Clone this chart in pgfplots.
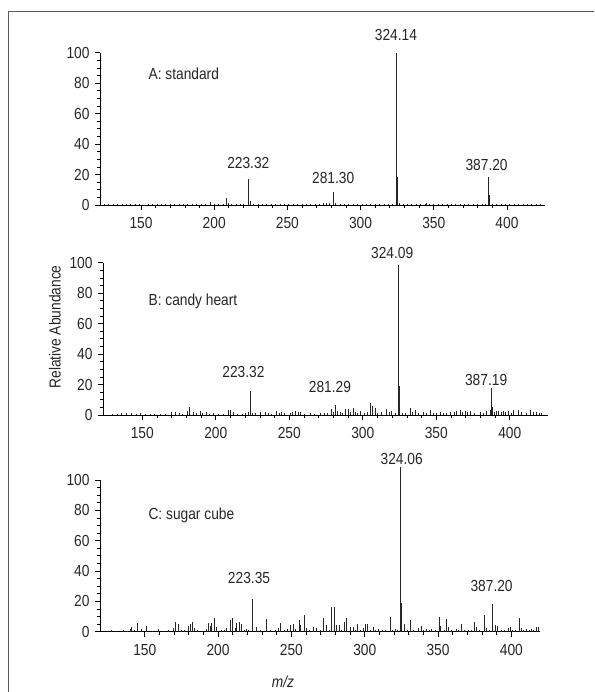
\documentclass[border=0pt]{standalone}
\usepackage{fontspec}
\setmainfont{Liberation Sans}[FakeStretch=0.86]
\usepackage{pgfplots}
\pgfplotsset{compat=1.18}

\tikzset{lab/.style={font=\fontsize{16}{19}\selectfont, text=black!85}}
\pgfplotsset{
  spec/.style={
    scale only axis,
    anchor=origin,
    axis lines=left,
    axis line style={-, black, line width=0.8pt},
    clip=false,
    ymin=0, ymax=100,
    ytick={0,20,...,100},
    minor y tick num=3,
    xtick={150,200,...,400},
    minor x tick num=4,
    tick align=outside,
    major tick length=5pt,
    minor tick length=3.5pt,
    tick style={black, line width=0.7pt},
    ticklabel style={font=\fontsize{16}{19}\selectfont, text=black!85},
    /pgf/number format/assume math mode=true,
    xticklabel style={yshift=-4pt},
    yticklabel style={xshift=-2pt},
  },
  peak/.style={ycomb, black!85, line width=0.8pt, mark=none},
}

\begin{document}
\begin{tikzpicture}[x=1pt, y=1pt]
\useasboundingbox (0pt,0pt) rectangle (594pt,692pt);
\draw[black!65, line width=1.3pt] (8.3pt,0pt) -- (8.3pt,680.3pt) -- (594pt,680.3pt);

% A: standard
\begin{axis}[spec, at={(100pt,487pt)}, width=445pt, height=152.3pt, xmin=122, xmax=426]
\addplot[peak] table {
125 0.5
128 0.4
131 0.6
134 0.5
137 0.4
140 0.7
143 0.5
146 0.4
149 0.6
152 0.3
155 0.5
158 0.4
161 0.6
164 0.4
167 0.5
170 0.7
173 0.6
176 0.8
179 0.5
182 0.6
185 0.7
188 0.6
191 0.8
194 0.5
197.6 1.8
200 0.6
203 0.5
206 0.7
208.6 4.4
209.7 1.2
212 0.5
215 0.6
218 0.7
220 0.6
223.32 17
225 2.5
227 0.6
230 0.5
233 0.7
236 0.6
239 0.8
242 0.6
245 0.9
248 0.6
251 0.7
254 0.5
257 0.8
260 0.6
263 0.7
266 0.6
269 0.8
272 0.7
274.5 1.0
276.8 1.2
279 1.5
281.3 8.3
283 1.2
286 0.7
289 0.6
292 0.5
295 0.7
298 0.6
301 0.5
304 0.6
307 0.7
310 0.5
313 0.6
316 0.5
319 0.6
322 0.7
324.14 100
325.1 18.6
326.4 1.5
329 0.6
332 0.5
335 0.6
338 0.5
341 0.7
344 0.9
345.1 1.2
347 0.8
350 0.9
353 0.8
356 0.9
359 0.8
362 0.7
365 0.6
368 0.7
371 0.6
374 0.5
377 0.6
380 0.7
383 0.6
385 0.8
387.2 18.5
388.3 6.5
390 0.8
393 0.7
396 0.6
399 0.7
402 0.5
405 0.6
408 0.5
411 0.4
414 0.5
417 0.4
420 0.5
423 0.4
};
\node[lab, anchor=west] at (axis cs:152.8,86) {A: standard};
\node[lab] at (axis cs:324.14,111.6) {324.14};
\node[lab] at (axis cs:223.32,27.4) {223.32};
\node[lab] at (axis cs:281.3,17.5) {281.30};
\node[lab] at (axis cs:386.1,26.3) {387.20};
\end{axis}

% B: candy heart
\begin{axis}[spec, at={(103pt,277pt)}, width=445pt, height=152.3pt, xmin=123.3, xmax=426]
\addplot[peak] table {
130 0.5
133 0.6
136 1.5
139.4 1.5
142.8 1.5
146 0.8
148.5 1.5
152 0.6
155.3 0.8
158 0.5
162.1 0.8
166 0.6
170 2.2
172.3 2.2
175 1.0
177 0.8
180.7 2.5
182 5.5
184.7 2.2
187 1.5
189.3 2.8
191 1.2
193.8 2.2
196 0.8
198.3 1.5
202 0.6
205 0.8
208.5 3.3
210.2 3.3
212 1.8
215 0.8
218 0.6
220 1.2
222.2 2.2
223.32 16
225 1.5
227 1.2
230.1 2.2
233.5 1.8
236 1.0
238 0.8
241.4 2.8
243 1.5
244.8 2.2
247 1.2
250.5 1.5
252 1.8
254.4 2.8
256 1.8
257.3 2.2
260 0.8
264.1 1.2
267 0.8
270.9 1.5
274 1.0
276 1.5
278.9 3.7
280 2.2
281.29 6.6
282.5 2.5
284.5 2.2
286 1.5
287.9 3.7
290.2 3.7
291.5 1.8
293.6 4.8
295 2.2
296.5 1.5
298.1 2.8
301 1.2
303 1.8
304.9 7.7
306.5 6.1
308.3 4.8
310 1.2
312.9 2.2
316.3 3.7
318 1.8
319.7 2.8
322 1.5
324.09 98.5
325.0 19.3
327 1.5
329 1.2
332.1 4.8
334 2.2
335.5 3.3
338 1.2
341.2 1.8
343 1.2
345.7 3.3
348 1.2
350 1.5
352.6 1.8
355 1.2
357 1.5
359.3 2.2
362 1.8
364 2.5
366.2 3.3
368 2.2
369.6 2.8
371 1.8
373 2.5
376 1.5
379.8 2.2
382 1.5
384 2.8
386.6 3.3
387.19 17.9
388.3 5.5
389.3 2.2
391 2.8
392.2 2.5
394 2.2
395.6 2.5
397 1.8
399 2.8
401 1.2
402.4 3.3
405.8 3.5
408.1 2.2
411 1.2
413.8 3.5
416 1.8
418.3 2.2
420 1.5
421.7 1.2
};
\node[lab, anchor=west] at (axis cs:151.9,74.4) {B: candy heart};
\node[lab] at (axis cs:320,106.2) {324.09};
\node[lab] at (axis cs:218.8,28.4) {223.32};
\node[lab] at (axis cs:277.7,18.6) {281.29};
\node[lab] at (axis cs:383.9,23) {387.19};
\end{axis}

% C: sugar cube
\begin{axis}[spec, at={(100pt,60.3pt)}, width=440pt, height=151.7pt, xmin=119.5, xmax=419.5]
\addplot[peak] table {
127.5 1.1
131 0.6
135.4 1.1
138 0.5
140.0 1.8
141.1 3.3
143 0.8
145.0 5.5
148.0 1.8
151.4 4.0
155 0.6
159.3 1.5
163 0.5
166 0.8
169.5 2.6
170.7 6.2
172.9 4.8
175 1.2
177 1.0
179.7 4.0
181.4 4.8
182.5 6.6
183.6 2.2
186 0.8
189 0.6
192 1.5
193.4 5.5
194.5 4.0
195.7 5.5
197.3 8.8
199.1 3.3
202 0.8
204 1.2
205.9 2.2
208.1 7.7
210.0 9.2
211.6 2.2
212.7 5.5
214.3 6.2
216.1 4.8
218 1.0
219.5 1.8
221 1.0
223.35 21.3
226.4 3.3
229 0.8
233.2 8.4
236 1.0
239 1.2
241.1 2.2
242.2 5.9
245 1.0
247 1.5
249.0 4.4
251.3 4.8
253 1.5
255.2 7.7
256.3 4.4
258.6 11.0
260.4 2.2
262 1.0
264.9 3.3
267.2 2.2
270 0.8
271.8 9.2
274.1 4.4
276 1.2
277.5 16.5
279.0 16.5
280.9 4.4
282.4 4.4
284 1.2
285.9 6.6
287.7 8.8
290.0 3.3
292.2 3.3
293.5 1.2
295.2 4.8
297 1.2
299.0 2.6
300.2 4.8
301.8 4.8
304 1.0
305.9 3.3
307.5 1.0
309.3 1.8
312 0.8
314 0.8
317.2 9.9
319 1.0
321 1.5
322.5 1.0
324.06 108.8
325.2 19.1
327.0 5.1
329 1.2
331.3 7.7
333 1.0
336.5 2.6
338.3 3.7
340 1.2
342.2 1.8
344 0.8
345.6 1.8
348 1.2
350.8 9.9
351.7 3.7
354 1.0
355.8 8.1
356.9 3.3
359 1.0
362.6 1.8
364 0.8
366.0 4.8
368 1.0
371 0.8
373 1.2
375.1 6.6
376.3 3.3
378 1.0
381.3 11.0
383.1 2.6
385 1.0
387.20 18.0
388.8 4.4
390.4 3.7
393 1.0
395 1.2
397.9 2.6
399.0 3.3
401 1.0
403 1.2
405.4 8.8
407.0 2.2
408.5 1.0
410.4 1.8
412 1.0
413.8 1.8
415 1.0
416.8 3.3
418.4 3.3
};
\node[lab, anchor=west] at (axis cs:150.2,76.9) {C: sugar cube};
\node[lab] at (axis cs:325.2,113.6) {324.06};
\node[lab] at (axis cs:221.1,35.6) {223.35};
\node[lab] at (axis cs:386.5,30.1) {387.20};
\end{axis}

\node[lab, rotate=90] at (55pt,365pt) {Relative Abundance};
\node[lab] at (283pt,10.3pt) {\itshape m/z};
\end{tikzpicture}
\end{document}
